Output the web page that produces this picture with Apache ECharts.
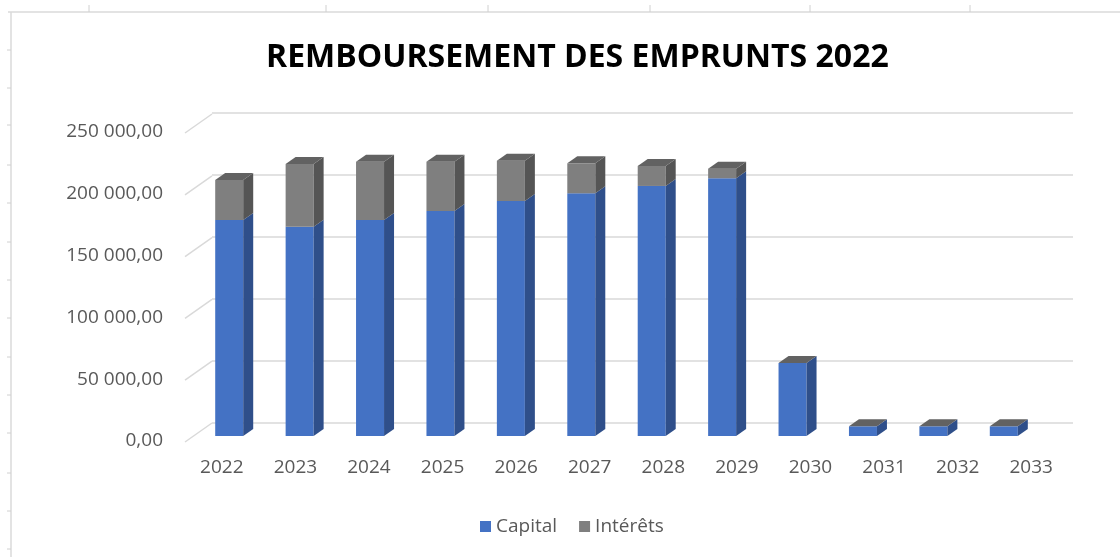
<!DOCTYPE html>
<html>
<head>
<meta charset="utf-8">
<script src="https://cdn.jsdelivr.net/npm/echarts@6/dist/echarts.min.js"></script>
<style>
  html, body { margin: 0; padding: 0; background: #fff; }
  #chart { width: 1120px; height: 557px; }
</style>
</head>
<body>
<div id="chart"></div>
<script>
const years = ['2022', '2023', '2024', '2025', '2026', '2027', '2028', '2029', '2030', '2031', '2032', '2033'];
const capital = [173600, 168300, 173600, 180900, 188900, 195100, 201000, 207200, 58600, 7800, 7800, 7800];
const interets = [32200, 50400, 46900, 39600, 32400, 24100, 16100, 7700, 0, 0, 0, 0];
const yTicks = [0, 50000, 100000, 150000, 200000, 250000];

const chart = echarts.init(document.getElementById('chart'));

// depth of the fake 3D bars
const DX = 10, DY = -7;
const BAR_W = 28;

function fmt(v) {
  return String(v).replace(/\B(?=(\d{3})+(?!\d))/g, ' ') + ',00';
}

// rows for the side/top faces: [index, capital, total]
const faceData = years.map((y, i) => [i, capital[i], capital[i] + interets[i]]);

function renderFaces(params, api) {
  const i = api.value(0);
  const p0 = api.coord([i, 0]);
  const p1 = api.coord([i, api.value(1)]);
  const p2 = api.coord([i, api.value(2)]);
  const xl = p0[0] - BAR_W / 2;
  const xr = p0[0] + BAR_W / 2;
  const side = (yb, yt) => [[xr, yb], [xr + DX, yb + DY], [xr + DX, yt + DY], [xr, yt]];
  return {
    type: 'group',
    children: [
      { type: 'polygon', shape: { points: side(p0[1], p1[1]) }, style: { fill: '#2F4F8A' } },
      { type: 'polygon', shape: { points: side(p1[1], p2[1]) }, style: { fill: '#555555' } },
      {
        type: 'polygon',
        shape: { points: [[xl, p2[1]], [xl + DX, p2[1] + DY], [xr + DX, p2[1] + DY], [xr, p2[1]]] },
        style: { fill: '#626262' }
      }
    ]
  };
}

// little diagonal floor lines between the labels and the back wall
function renderDiag(params, api) {
  const cs = params.coordSys;
  const p = api.coord([0, api.value(1)]);
  return {
    type: 'line',
    shape: { x1: cs.x, y1: p[1] + 1, x2: cs.x + 27, y2: p[1] - 18 },
    style: { stroke: '#D9D9D9', lineWidth: 1.5 }
  };
}

const labelColor = '#595959';
const font = "'Open Sans', sans-serif";

const topTicks = [89, 326, 488, 650, 810, 970];
const leftTicks = [50, 88, 125, 165, 203, 242, 280, 318, 357, 395, 433, 473, 511, 549];
const frame = [
  { type: 'line', shape: { x1: 8, y1: 12, x2: 1120, y2: 12 }, style: { stroke: '#DADADA', lineWidth: 1.5 } },
  { type: 'line', shape: { x1: 11, y1: 12, x2: 11, y2: 557 }, style: { stroke: '#DADADA', lineWidth: 1.5 } }
];
topTicks.forEach(x => frame.push({ type: 'line', shape: { x1: x, y1: 5, x2: x, y2: 12 }, style: { stroke: '#D0D0D0', lineWidth: 1 } }));
leftTicks.forEach(y => frame.push({ type: 'line', shape: { x1: 7, y1: y, x2: 11, y2: y }, style: { stroke: '#D0D0D0', lineWidth: 1 } }));

const option = {
  backgroundColor: '#ffffff',
  animation: false,
  title: {
    text: 'REMBOURSEMENT DES EMPRUNTS 2022',
    left: 261,
    top: 37,
    textStyle: { fontFamily: font, fontWeight: 'bold', fontSize: 32, color: '#000000' }
  },
  legend: {
    left: 475,
    top: 512,
    itemWidth: 11,
    itemHeight: 11,
    itemGap: 22,
    icon: 'rect',
    data: ['Capital', 'Intérêts'],
    textStyle: { fontFamily: font, fontSize: 19, color: labelColor, padding: [0, 0, 0, 0] }
  },
  graphic: frame,
  grid: [
    { left: 194, right: 81, top: 125, bottom: 121 },
    { left: 185, right: 52, top: 132, bottom: 116 },
    { left: 212, right: 47, top: 113, bottom: 134 }
  ],
  xAxis: [
    { gridIndex: 0, type: 'category', data: years, show: false },
    {
      gridIndex: 1, type: 'category', data: years,
      axisLine: { show: false }, axisTick: { show: false },
      axisLabel: { margin: 17, fontFamily: font, fontSize: 19, color: labelColor }
    },
    { gridIndex: 2, type: 'category', data: years, show: false }
  ],
  yAxis: [
    { gridIndex: 0, type: 'value', min: 0, max: 250000, interval: 50000, show: false },
    {
      gridIndex: 1, type: 'value', min: 0, max: 250000, interval: 50000,
      axisLine: { show: false }, axisTick: { show: false }, splitLine: { show: false },
      axisLabel: { margin: 22, fontFamily: font, fontSize: 19, color: labelColor, formatter: fmt }
    },
    {
      gridIndex: 2, type: 'value', min: 0, max: 250000, interval: 50000,
      axisLine: { show: false }, axisTick: { show: false }, axisLabel: { show: false },
      splitLine: { lineStyle: { color: '#D9D9D9', width: 1.5 } }
    }
  ],
  series: [
    {
      name: 'Capital', type: 'bar', stack: 'total', xAxisIndex: 0, yAxisIndex: 0,
      barWidth: BAR_W, data: capital, itemStyle: { color: '#4472C4' }
    },
    {
      name: 'Intérêts', type: 'bar', stack: 'total', xAxisIndex: 0, yAxisIndex: 0,
      barWidth: BAR_W, data: interets, itemStyle: { color: '#7F7F7F' }
    },
    {
      type: 'custom', xAxisIndex: 0, yAxisIndex: 0, data: faceData,
      renderItem: renderFaces, silent: true, z: 3
    },
    {
      type: 'custom', xAxisIndex: 1, yAxisIndex: 1,
      data: yTicks.map(v => [0, v]), renderItem: renderDiag, silent: true, z: 1
    }
  ]
};

chart.setOption(option);
</script>
</body>
</html>
